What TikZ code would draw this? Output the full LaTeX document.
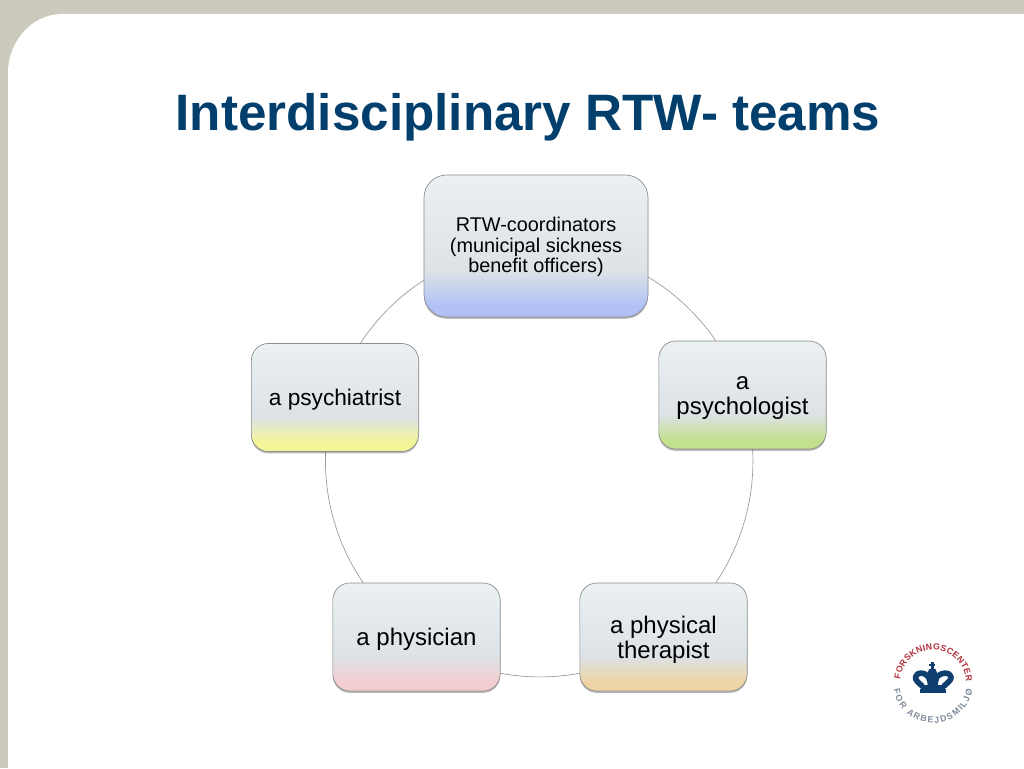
\documentclass[tikz,border=0pt]{standalone}
\usepackage{fontspec}
\setmainfont{Liberation Sans}
\usetikzlibrary{shadows,decorations.text}
\pgfdeclarelayer{panel}
\pgfdeclarelayer{links}
\pgfsetlayers{panel,links,main}
\definecolor{bgtaupe}{HTML}{CCC9BD}
\definecolor{titleblue}{HTML}{023F6D}
\definecolor{crownblue}{HTML}{0F3F6E}
\definecolor{logored}{HTML}{B5303C}
\definecolor{loggrey}{HTML}{7F8C99}
\definecolor{basetop}{HTML}{EBF0F3}
\definecolor{basemid}{HTML}{DCE2E6}
\definecolor{endblue}{HTML}{B0C0F5}
\definecolor{endgreen}{HTML}{C3E08C}
\definecolor{endyellow}{HTML}{F4F596}
\definecolor{endpink}{HTML}{F4CDD0}
\definecolor{endtan}{HTML}{EED4A5}
\newcommand{\defshade}[2]{%
  \pgfdeclareverticalshading{#1}{100bp}{%
    color(0bp)=(#2); color(25bp)=(#2); color(29bp)=(#2);
    color(41bp)=(basemid);
    color(75bp)=(basetop);
    color(100bp)=(basetop)}}
\defshade{shblue}{endblue}
\defshade{shgreen}{endgreen}
\defshade{shyellow}{endyellow}
\defshade{shpink}{endpink}
\defshade{shtan}{endtan}
\tikzset{
  x=0.75pt,y=0.75pt,
  teambox/.style={draw=black!45,line width=0.5pt,rounded corners=12.75pt,
    minimum width=125.5pt,minimum height=81pt,inner sep=0pt,align=center,text=black,
    font=\fontsize{18}{18.9}\selectfont,
    drop shadow={shadow xshift=0pt,shadow yshift=-1.4pt,fill=black,opacity=.28}},
  link/.style={draw=black!40,line width=0.5pt},
  ringlabel/.style={decorate,decoration={text along path,text align={fit to path},text={#1}}}
}
\begin{document}
\begin{tikzpicture}
\useasboundingbox (0,0) rectangle (1024,768);
\begin{pgfonlayer}{panel}
\fill[bgtaupe] (0,0) rectangle (1024,768);
\fill[white] (8,0) -- (8,696) .. controls (8,725) and (31,754) .. (62,754) -- (1024,754) -- (1024,0) -- cycle;
\end{pgfonlayer}
\node[font=\fontsize{38.4}{40}\selectfont\bfseries,text=titleblue,inner sep=0pt] (title) at (528,651) {Interdisciplinary RTW- teams};
\node[teambox,shading=shblue,minimum width=168pt,minimum height=106.5pt,rounded corners=17pt,
  font=\fontsize{14.9}{15.4}\selectfont] (coord) at (536,522) {\rule{0pt}{12.7pt}RTW-coordinators\\(municipal sickness\\benefit officers)};
\node[teambox,shading=shgreen] (psychol) at (742.5,373) {\rule{0pt}{14.8pt}a\\psychologist};
\node[teambox,shading=shtan] (therap) at (663.5,131) {\rule{0pt}{16.9pt}a physical\\therapist};
\node[teambox,shading=shpink] (physic) at (416.5,131) {\rule{0pt}{16.1pt}a physician};
\node[teambox,shading=shyellow,font=\fontsize{17}{18}\selectfont] (psychia) at (335,370.5) {\rule{0pt}{15.4pt}a psychiatrist};
\begin{pgfonlayer}{links}
\draw[link] (coord.center) to[bend left=36,looseness=.94] (psychol.center);
\draw[link] (psychol.center) to[bend left=36,looseness=.94] (therap.center);
\draw[link] (therap.center) to[bend left=36,looseness=.94] (physic.center);
\draw[link] (physic.center) to[bend left=36,looseness=.94] (psychia.center);
\draw[link] (psychia.center) to[bend left=36,looseness=.94] (coord.center);
\end{pgfonlayer}
% logo
\path[ringlabel={|\fontsize{6.6}{7}\selectfont\bfseries\color{logored}|FORSKNINGSCENTER}]
  (933,85) ++(174:33) arc[start angle=174,end angle=2,radius=33];
\path[ringlabel={|\fontsize{6.6}{7}\selectfont\bfseries\color{loggrey}|FOR ARBEJDSMILJØ}]
  (933,85) ++(190:40) arc[start angle=190,end angle=350,radius=40];
\begin{scope}[shift={(870,148)},x=.25pt,y=-.25pt]
\fill[crownblue] (150,207) rectangle (229,218);
\fill[crownblue] (183,125) rectangle (191,150);
\fill[crownblue] (178,132) rectangle (196,139);
\fill[crownblue] (187,158) circle[radius=14];
\draw[crownblue,line width=4.2pt,line join=round]
  (158,199) .. controls (145,188) and (134,180) .. (137,170)
  .. controls (141,155) and (165,155) .. (176,172)
  .. controls (180,182) and (182,192) .. (182,199);
\draw[crownblue,line width=4.2pt,line join=round]
  (221,199) .. controls (232,188) and (246,180) .. (243,170)
  .. controls (239,155) and (214,155) .. (200,172)
  .. controls (196,182) and (195,192) .. (195,199);
\draw[crownblue,line width=3pt] (153,201) -- (226,201);
\draw[crownblue,line width=3pt] (188,170) -- (188,199);
\end{scope}
\end{tikzpicture}
\end{document}
